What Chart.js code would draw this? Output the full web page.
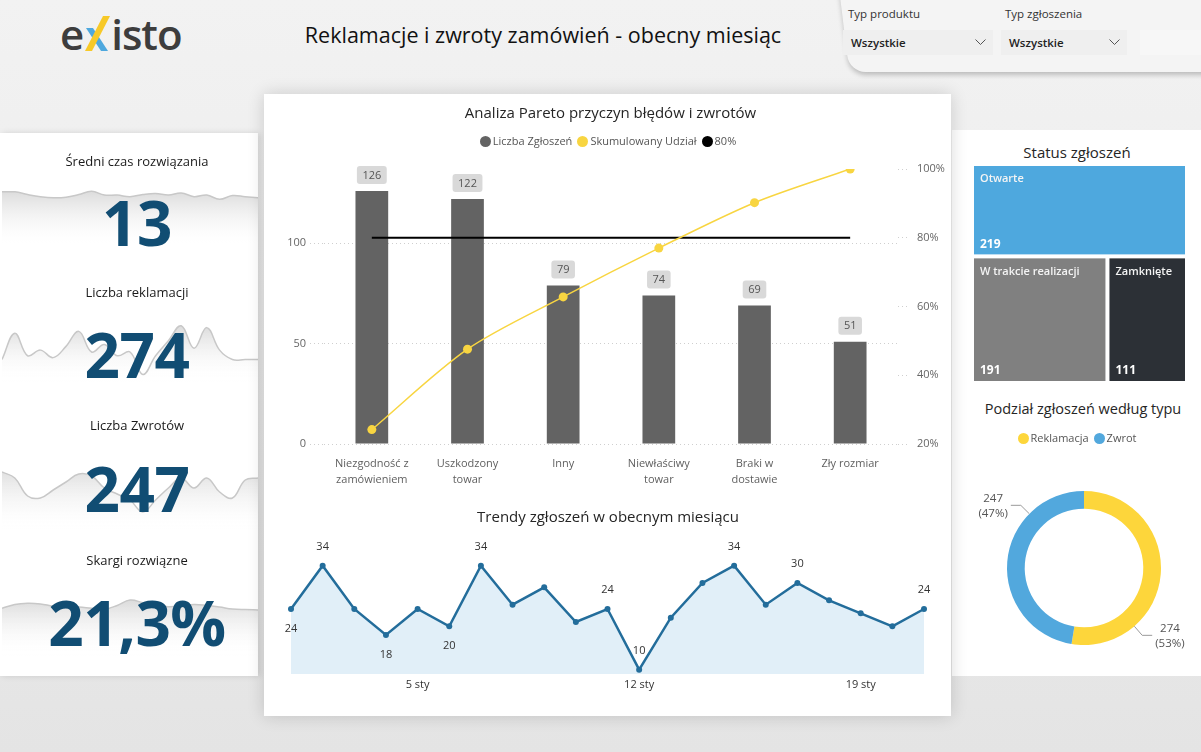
<!DOCTYPE html>
<html lang="pl">
<head>
<meta charset="utf-8">
<title>Reklamacje i zwroty zamówień - obecny miesiąc</title>
<script src="https://cdn.jsdelivr.net/npm/chart.js@4.4.1/dist/chart.umd.min.js"></script>
<style>
  * { box-sizing: border-box; margin: 0; padding: 0; }
  body {
    width: 1201px; height: 752px; overflow: hidden; position: relative;
    font-family: 'Open Sans', 'Noto Sans', sans-serif;
    background: linear-gradient(180deg, #f2f2f2 0%, #ebebeb 55%, #e4e4e4 100%);
  }
  .abs { position: absolute; }
  .card { position: absolute; background: #fff; }
  canvas { position: absolute; display: block; }
  .title { position: absolute; text-align: center; color: #252525; white-space: nowrap; }

  #logo { left: 60px; top: 12px; height: 44px; font-size: 42px; font-weight: 600; color: #3d3d3d; line-height: 44px; letter-spacing: -1px; display: flex; align-items: flex-end; }
  #logo svg { margin: 0 1px 4px 1px; }
  #header { left: 243px; top: 20px; width: 600px; line-height: 30px; font-size: 21.5px; font-weight: 500; color: #111; }

  #filterBg { left: 838px; top: -20px; width: 390px; height: 92px; background: #f4f4f4;
    border-bottom-left-radius: 16px; transform: skewX(7deg); transform-origin: top left;
    box-shadow: 0 3px 5px rgba(0,0,0,0.22); }
  .flabel { position: absolute; top: 6px; font-size: 11.5px; color: #333; line-height: 16px; }
  .drop { position: absolute; top: 30px; height: 25px; background: #efefef; font-size: 11.5px; font-weight: 600; color: #222; line-height: 25px; padding-left: 8px; }
  .drop svg { position: absolute; top: 9px; }

  #leftCard { left: 0; top: 133px; width: 258px; height: 543px; box-shadow: 2px 0 6px rgba(0,0,0,0.12); }
  #centerCard { left: 264px; top: 94px; width: 687px; height: 622px; box-shadow: 0 0 16px rgba(0,0,0,0.16); z-index: 1; }
  #rightCard { left: 952px; top: 130px; width: 249px; height: 546px; }

  .kpiTitle { position: absolute; left: 0; width: 274px; text-align: center; font-size: 13px; font-weight: 500; color: #1a1a1a; line-height: 20px; z-index: 2; }
  .kpiValue { position: absolute; left: 0; width: 274px; text-align: center; font-size: 62px; font-weight: 700; color: #114d73; line-height: 70px; z-index: 2; letter-spacing: -0.5px; }

  .legend { position: absolute; display: flex; justify-content: center; align-items: center; font-size: 11px; color: #555; line-height: 16px; white-space: nowrap; z-index: 2; }
  .legend span.dot { display: inline-block; width: 11px; height: 11px; border-radius: 50%; margin-right: 2px; }
  .legend span.item { margin-right: 5px; }
</style>
</head>
<body>

<div id="logo" class="abs"><span>e</span><svg width="26" height="36" viewBox="0 0 26 36">
  <polygon points="2,12 9,12 24,35 17,35" fill="#4ea8de"/>
  <polygon points="19,0 26,0 8,35 1,35" fill="#f7c928"/>
</svg><span>isto</span></div>
<div id="header" class="title">Reklamacje i zwroty zamówień - obecny miesiąc</div>

<div id="filterBg" class="abs"></div>
<div class="flabel" style="left:848px">Typ produktu</div>
<div class="drop" style="left:843px;width:150px">Wszystkie
  <svg style="left:132px" width="11" height="7" viewBox="0 0 11 7"><polyline points="0.5,0.5 5.5,5.5 10.5,0.5" fill="none" stroke="#555" stroke-width="1"/></svg></div>
<div class="flabel" style="left:1005px">Typ zgłoszenia</div>
<div class="drop" style="left:1001px;width:126px">Wszystkie
  <svg style="left:108px" width="11" height="7" viewBox="0 0 11 7"><polyline points="0.5,0.5 5.5,5.5 10.5,0.5" fill="none" stroke="#555" stroke-width="1"/></svg></div>
<div class="drop" style="left:1140px;width:70px;background:#f7f7f7"></div>

<!-- lewa kolumna: KPI -->
<div id="leftCard" class="card"></div>
<canvas id="spark1" width="256" height="64" style="left:2px;top:186px"></canvas>
<canvas id="spark2" width="256" height="60" style="left:2px;top:322px"></canvas>
<canvas id="spark3" width="256" height="70" style="left:2px;top:462px"></canvas>
<canvas id="spark4" width="256" height="60" style="left:2px;top:596px"></canvas>
<div class="kpiTitle" style="top:151px">Średni czas rozwiązania</div>
<div class="kpiValue" style="top:187px">13</div>
<div class="kpiTitle" style="top:282px">Liczba reklamacji</div>
<div class="kpiValue" style="top:319px">274</div>
<div class="kpiTitle" style="top:415px">Liczba Zwrotów</div>
<div class="kpiValue" style="top:453px">247</div>
<div class="kpiTitle" style="top:550px">Skargi rozwiązne</div>
<div class="kpiValue" style="top:587px">21,3%</div>

<!-- srodek: Pareto + trend -->
<div id="centerCard" class="card">
  <div class="title" style="left:0;width:693px;top:1px;font-size:15px;line-height:34px">Analiza Pareto przyczyn błędów i zwrotów</div>
  <div class="legend" style="left:0;width:688px;top:39px">
    <span class="dot" style="background:#636363"></span><span class="item">Liczba Zgłoszeń</span>
    <span class="dot" style="background:#f8d541"></span><span class="item">Skumulowany Udział</span>
    <span class="dot" style="background:#000"></span><span>80%</span>
  </div>
  <canvas id="pareto" width="687" height="345" style="left:0;top:57px"></canvas>
  <div class="title" style="left:0;width:688px;top:405px;font-size:15px;line-height:34px">Trendy zgłoszeń w obecnym miesiącu</div>
  <canvas id="trend" width="687" height="180" style="left:0;top:436px"></canvas>
</div>

<!-- prawa kolumna -->
<div id="rightCard" class="card">
  <div class="title" style="left:0;width:250px;top:5px;font-size:15px;line-height:34px">Status zgłoszeń</div>
  <canvas id="status" width="249" height="230" style="left:0;top:30px"></canvas>
  <div class="title" style="left:0;width:262px;top:262px;font-size:14.5px;line-height:34px">Podział zgłoszeń według typu</div>
  <div class="legend" style="left:0;width:250px;top:300px">
    <span class="dot" style="background:#fdd63b"></span><span class="item">Reklamacja</span>
    <span class="dot" style="background:#52a8dd"></span><span>Zwrot</span>
  </div>
  <canvas id="typ" width="249" height="216" style="left:0;top:330px"></canvas>
</div>

<script>
// --- dane ---
const przyczyny = [['Niezgodność z', 'zamówieniem'], ['Uszkodzony', 'towar'], 'Inny', ['Niewłaściwy', 'towar'], ['Braki w', 'dostawie'], 'Zły rozmiar'];
const liczbaZgloszen = [126, 122, 79, 74, 69, 51];
const skumulowanyUdzial = [0.242, 0.476, 0.628, 0.770, 0.902, 1.0];
const prog80 = [0.8, 0.8, 0.8, 0.8, 0.8, 0.8];

const dni = ['1 sty', '2 sty', '3 sty', '4 sty', '5 sty', '6 sty', '7 sty', '8 sty', '9 sty', '10 sty', '11 sty',
  '12 sty', '13 sty', '14 sty', '15 sty', '16 sty', '17 sty', '18 sty', '19 sty', '20 sty', '21 sty'];
const zgloszeniaDziennie = [24, 34, 24, 18, 24, 20, 34, 25, 29, 21, 24, 10, 22, 30, 34, 25, 30, 26, 23, 20, 24];
const trendEtykietyNad = [1, 6, 10, 11, 14, 16, 20];
const trendEtykietyPod = [0, 3, 5];

const statusy = ['Otwarte', 'W trakcie realizacji', 'Zamknięte'];
const statusWartosci = [219, 191, 111];

const typy = ['Reklamacja', 'Zwrot'];
const typWartosci = [274, 247];

const sparkCzas = [14.9, 14.9, 14.4, 14.0, 13.8, 13.9, 14.4, 15.0, 14.3, 14.3, 14.0, 14.4, 14.6, 14.3, 14.7, 14.0, 14.3, 13.5, 14.2, 14.0, 13.8];
const sparkReklamacje = [10, 17, 11, 12.5, 10.5, 13.5, 17.5, 12, 14, 11, 12, 6, 11, 15, 19, 13, 18.5, 12.5, 10, 10, 10];
const sparkZwroty = [14, 12.5, 8, 7.5, 9.5, 11.5, 13.5, 13, 10, 8.5, 7, 4, 7, 10, 12.5, 10, 12.5, 9, 7.5, 12, 12.5];
const sparkSkargi = [20.6, 21.8, 22.2, 22.0, 21.3, 21.0, 21.0, 20.6, 20.3, 21.5, 23.2, 22.4, 21.5, 21.1, 21.3, 21.8, 21.5, 21.0, 20.4, 20.2, 20.1];

Chart.defaults.font.family = "'Open Sans', 'Noto Sans', sans-serif";
Chart.defaults.animation = false;
Chart.defaults.responsive = false;
Chart.defaults.plugins.legend.display = false;
Chart.defaults.plugins.tooltip.enabled = false;

// --- sparklines w tle KPI ---
function fadeFill(c) {
  const { ctx, chartArea } = c.chart;
  if (!chartArea) return 'rgba(0,0,0,0)';
  const g = ctx.createLinearGradient(0, chartArea.top, 0, chartArea.bottom);
  g.addColorStop(0, 'rgba(200,200,200,0.75)');
  g.addColorStop(1, 'rgba(255,255,255,0)');
  return g;
}

function sparkline(id, values, min, max) {
  new Chart(document.getElementById(id), {
    type: 'line',
    data: {
      labels: dni,
      datasets: [{
        data: values,
        borderColor: '#c8c8c8',
        borderWidth: 1.5,
        pointRadius: 0,
        tension: 0.4,
        fill: 'start',
        backgroundColor: fadeFill
      }]
    },
    options: {
      events: [],
      scales: { x: { display: false }, y: { display: false, min: min, max: max } }
    }
  });
}

sparkline('spark1', sparkCzas, 4, 16);
sparkline('spark2', sparkReklamacje, 4, 20);
sparkline('spark3', sparkZwroty, -1, 16.5);
sparkline('spark4', sparkSkargi, 5.5, 24.5);

// --- Pareto ---
const etykietySlupkow = {
  id: 'etykietySlupkow',
  afterDatasetsDraw(chart) {
    const ctx = chart.ctx;
    const meta = chart.getDatasetMeta(0);
    ctx.save();
    ctx.font = "11px 'Open Sans'";
    ctx.textAlign = 'center';
    ctx.textBaseline = 'middle';
    meta.data.forEach((bar, i) => {
      const txt = String(liczbaZgloszen[i]);
      const w = ctx.measureText(txt).width + 11, h = 18;
      const x = bar.x - w / 2, y = bar.y - 7 - h;
      ctx.fillStyle = '#d9d9d9';
      ctx.beginPath();
      ctx.roundRect(x, y, w, h, 3);
      ctx.fill();
      ctx.fillStyle = '#555';
      ctx.fillText(txt, bar.x, y + h / 2 + 0.5);
    });
    ctx.restore();
  }
};

new Chart(document.getElementById('pareto'), {
  type: 'bar',
  data: {
    labels: przyczyny,
    datasets: [
      { label: 'Liczba Zgłoszeń', data: liczbaZgloszen, backgroundColor: '#636363', yAxisID: 'y',
        barPercentage: 0.9, categoryPercentage: 0.38, order: 3 },
      { type: 'line', label: '80%', data: prog80, borderColor: '#000', borderWidth: 2, pointRadius: 0,
        yAxisID: 'y1', order: 2 },
      { type: 'line', label: 'Skumulowany Udział', data: skumulowanyUdzial, borderColor: '#f8d541',
        backgroundColor: '#f8d541', borderWidth: 1.5, pointRadius: 4.5, pointBorderWidth: 0,
        tension: 0.3, yAxisID: 'y1', order: 1 }
    ]
  },
  options: {
    layout: { padding: { top: 18, left: 0, right: 0, bottom: 0 } },
    scales: {
      x: {
        offset: true,
        grid: { display: false, drawTicks: false },
        border: { display: false },
        ticks: { color: '#5f5f5f', font: { size: 11, lineHeight: 1.45 }, padding: 12, maxRotation: 0, autoSkip: false },
        afterFit: s => { s.height = 52; }
      },
      y: {
        position: 'left', min: 0, max: 137,
        ticks: { stepSize: 50, includeBounds: false, color: '#666', font: { size: 11 }, padding: 4 },
        grid: { color: '#cfcfcf', tickLength: 14, tickBorderDash: [1, 3], tickColor: '#cfcfcf' },
        border: { display: false, dash: [1, 3] },
        afterFit: s => { s.width = 60; }
      },
      y1: {
        position: 'right', min: 0.2, max: 1,
        ticks: { stepSize: 0.2, color: '#666', font: { size: 11 }, padding: 9,
          callback: v => Math.round(v * 100) + '%' },
        grid: { drawOnChartArea: false, tickLength: 10, tickColor: '#cfcfcf', tickBorderDash: [1, 3] },
        border: { display: false },
        afterFit: s => { s.width = 53; }
      }
    }
  },
  plugins: [etykietySlupkow]
});

// --- trend dzienny ---
const etykietyTrendu = {
  id: 'etykietyTrendu',
  afterDatasetsDraw(chart) {
    const ctx = chart.ctx;
    const pts = chart.getDatasetMeta(0).data;
    ctx.save();
    ctx.font = "11px 'Open Sans'";
    ctx.fillStyle = '#333';
    ctx.textAlign = 'center';
    ctx.textBaseline = 'middle';
    trendEtykietyNad.forEach(i => ctx.fillText(zgloszeniaDziennie[i], pts[i].x, pts[i].y - 19));
    trendEtykietyPod.forEach(i => ctx.fillText(zgloszeniaDziennie[i], pts[i].x, pts[i].y + 20));
    ctx.restore();
  }
};

new Chart(document.getElementById('trend'), {
  type: 'line',
  data: {
    labels: dni,
    datasets: [{
      data: zgloszeniaDziennie,
      borderColor: '#236d9b',
      borderWidth: 2.5,
      backgroundColor: '#e1eff8',
      fill: 'start',
      pointRadius: 3,
      pointBackgroundColor: '#236d9b',
      pointBorderWidth: 0,
      tension: 0
    }]
  },
  options: {
    layout: { padding: { top: 27, left: 27, right: 27, bottom: 0 } },
    scales: {
      x: {
        offset: false,
        grid: { display: false, drawTicks: false },
        border: { display: false },
        ticks: {
          color: '#333', font: { size: 11 }, padding: 4, maxRotation: 0, autoSkip: false,
          callback: (v, i) => (i % 7 === 4 ? dni[i] : '')
        },
        afterFit: s => { s.height = 36; }
      },
      y: { display: false, min: 9, max: 36 }
    }
  },
  plugins: [etykietyTrendu]
});

// --- status zgloszen (treemap na skalach liniowych) ---
const sumaStatus = statusWartosci.reduce((a, b) => a + b, 0);
const h1 = statusWartosci[0] / sumaStatus;
const w2 = statusWartosci[1] / (statusWartosci[1] + statusWartosci[2]);
const komorki = [
  { x0: 0, x1: 1, y0: 0, y1: h1, kolor: '#4ea8de' },
  { x0: 0, x1: w2, y0: h1, y1: 1, kolor: '#808080' },
  { x0: w2, x1: 1, y0: h1, y1: 1, kolor: '#2c3036' }
];

const rysujKomorki = {
  id: 'rysujKomorki',
  beforeDatasetsDraw(chart) {
    const ctx = chart.ctx;
    const sx = chart.scales.x, sy = chart.scales.y;
    ctx.save();
    komorki.forEach((k, i) => {
      let l = sx.getPixelForValue(k.x0), r = sx.getPixelForValue(k.x1);
      let t = sy.getPixelForValue(k.y0), b = sy.getPixelForValue(k.y1);
      if (k.x0 > 0) l += 2;
      if (k.x1 < 1) r -= 2;
      if (k.y0 > 0) t += 2;
      if (k.y1 < 1) b -= 2;
      ctx.fillStyle = k.kolor;
      ctx.fillRect(l, t, r - l, b - t);
      ctx.fillStyle = '#f4f4f4';
      ctx.textAlign = 'left';
      ctx.textBaseline = 'middle';
      ctx.font = "600 11px 'Open Sans'";
      ctx.fillText(statusy[i], l + 6, t + 13);
      ctx.fillStyle = '#fff';
      ctx.font = "bold 12px 'Open Sans'";
      ctx.fillText(statusWartosci[i], l + 6, b - 10);
    });
    ctx.restore();
  }
};

new Chart(document.getElementById('status'), {
  type: 'scatter',
  data: {
    datasets: [{
      data: komorki.map(k => ({ x: (k.x0 + k.x1) / 2, y: (k.y0 + k.y1) / 2 })),
      pointRadius: 0
    }]
  },
  options: {
    events: [],
    layout: { padding: { left: 22, right: 16, top: 6, bottom: 9 } },
    scales: {
      x: { type: 'linear', display: false, min: 0, max: 1 },
      y: { type: 'linear', display: false, min: 0, max: 1, reverse: true }
    }
  },
  plugins: [rysujKomorki]
});

// --- podzial wg typu (donut) ---
const etykietyDonut = {
  id: 'etykietyDonut',
  afterDatasetsDraw(chart) {
    const ctx = chart.ctx;
    const arcs = chart.getDatasetMeta(0).data;
    const suma = typWartosci.reduce((a, b) => a + b, 0);
    ctx.save();
    ctx.font = "11.5px 'Open Sans'";
    ctx.fillStyle = '#555';
    ctx.strokeStyle = '#9a9a9a';
    ctx.lineWidth = 1;
    ctx.textBaseline = 'middle';
    arcs.forEach((arc, i) => {
      const a = arc.startAngle + 0.735 * (arc.endAngle - arc.startAngle);
      const R = arc.outerRadius;
      const p1 = { x: arc.x + Math.cos(a) * R, y: arc.y + Math.sin(a) * R };
      const p2 = { x: arc.x + Math.cos(a) * (R + 12), y: arc.y + Math.sin(a) * (R + 12) };
      const dir = Math.cos(a) < 0 ? -1 : 1;
      const p3 = { x: p2.x + dir * 10, y: p2.y };
      ctx.beginPath();
      ctx.moveTo(p1.x, p1.y);
      ctx.lineTo(p2.x, p2.y);
      ctx.lineTo(p3.x, p3.y);
      ctx.stroke();
      const tx = p3.x + dir * 3;
      const pr = Math.round(typWartosci[i] / suma * 100);
      ctx.textAlign = 'center';
      const w = Math.max(ctx.measureText(String(typWartosci[i])).width, ctx.measureText('(' + pr + '%)').width);
      const cx = dir < 0 ? tx - w / 2 : tx + w / 2;
      ctx.fillText(typWartosci[i], cx, p2.y - 7);
      ctx.fillText('(' + pr + '%)', cx, p2.y + 8);
    });
    ctx.restore();
  }
};

new Chart(document.getElementById('typ'), {
  type: 'doughnut',
  data: {
    labels: typy,
    datasets: [{ data: typWartosci, backgroundColor: ['#fdd63b', '#52a8dd'], borderWidth: 0 }]
  },
  options: {
    cutout: '77%',
    events: [],
    layout: { padding: { left: 55, right: 40, top: 31, bottom: 31 } }
  },
  plugins: [etykietyDonut]
});
</script>
</body>
</html>
